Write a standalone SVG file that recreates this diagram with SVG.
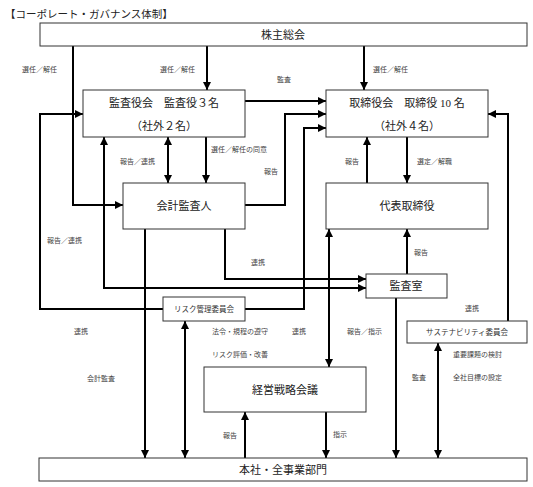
<svg xmlns="http://www.w3.org/2000/svg" width="533" height="487" viewBox="0 0 533 487">
<style>
.box{fill:#fff;stroke:#333;stroke-width:1}
.t{font-family:"Liberation Serif","Noto Sans CJK JP",serif;font-size:11px;fill:#222;text-anchor:middle;dominant-baseline:central}
.s{font-family:"Liberation Serif","Noto Sans CJK JP",serif;font-size:7px;fill:#444;dominant-baseline:central}
.ss{font-size:7.5px;fill:#333;text-anchor:middle}
.c{fill:none;stroke:#000;stroke-width:2}
.e{marker-end:url(#ah)}
.b{marker-start:url(#ah);marker-end:url(#ah)}
</style>
<defs>
<marker id="ah" viewBox="0 0 10 10" refX="10" refY="5" markerWidth="9" markerHeight="8" markerUnits="userSpaceOnUse" orient="auto-start-reverse">
<path d="M0,0 L10,5 L0,10 z" fill="#000"/>
</marker>
</defs>
<rect width="533" height="487" fill="#fff"/>
<text x="5" y="14" class="t" style="text-anchor:start;font-size:10.5px">【コーポレート・ガバナンス体制】</text>

<g id="connectors">
<path class="c e" d="M73,46 V205 H123"/>
<path class="c e" d="M207,46 V90"/>
<path class="c e" d="M364,46 V90"/>
<path class="c e" d="M245,101 H326"/>
<path class="c e" d="M245,205 H285 V114 H326"/>
<path class="c e" d="M245,309 H304 V128 H326"/>
<path class="c e" d="M163,309 H40 V114 H83"/>
<path class="c b" d="M104,137 V288 H366"/>
<path class="c e" d="M225,229 V279 H366"/>
<path class="c b" d="M168,137 V183"/>
<path class="c e" d="M206,137 V183"/>
<path class="c e" d="M145,229 V458"/>
<path class="c b" d="M185,321 V458"/>
<path class="c b" d="M329,229 V367"/>
<path class="c e" d="M367,183 V137"/>
<path class="c e" d="M407,137 V183"/>
<path class="c e" d="M407,274 V229"/>
<path class="c e" d="M508,321 V114 H488"/>
<path class="c b" d="M438,343 V458"/>
<path class="c e" d="M396,298 V458"/>
<path class="c e" d="M326,412 V458"/>
<path class="c e" d="M245,458 V412"/>
</g>

<g id="labels">
<text class="s" x="22" y="70">選任／解任</text>
<text class="s" x="160" y="70">選任／解任</text>
<text class="s" x="373" y="70">選任／解任</text>
<text class="s" x="277" y="80">監査</text>
<text class="s" x="120" y="162">報告／連携</text>
<text class="s" x="211" y="150">選任／解任の同意</text>
<text class="s" x="264" y="172">報告</text>
<text class="s" x="345" y="162">報告</text>
<text class="s" x="417" y="162">選定／解職</text>
<text class="s" x="47" y="241">報告／連携</text>
<text class="s" x="251" y="263">連携</text>
<text class="s" x="414" y="253">報告</text>
<text class="s" x="74" y="332">連携</text>
<text class="s" x="212" y="332">法令・規程の遵守</text>
<text class="s" x="292" y="332">連携</text>
<text class="s" x="347" y="332">報告／指示</text>
<text class="s" x="465" y="309">連携</text>
<text class="s" x="212" y="355">リスク評価・改善</text>
<text class="s" x="453" y="355">重要課題の検討</text>
<text class="s" x="87" y="379">会計監査</text>
<text class="s" x="412" y="378">監査</text>
<text class="s" x="453" y="378">全社目標の設定</text>
<text class="s" x="223" y="436">報告</text>
<text class="s" x="333" y="435">指示</text>
</g>

<g id="shareholders">
<rect class="box" x="40" y="23" width="487" height="23"/>
<text class="t" x="283" y="35">株主総会</text>
</g>
<g id="auditboard">
<rect class="box" x="83" y="90" width="162" height="47"/>
<text class="t" x="164" y="103">監査役会　監査役３名</text>
<text class="t" x="164" y="126">（社外２名）</text>
</g>
<g id="board">
<rect class="box" x="326" y="90" width="162" height="47"/>
<text class="t" x="407" y="103">取締役会　取締役 10 名</text>
<text class="t" x="407" y="126">（社外４名）</text>
</g>
<g id="accountingauditor">
<rect class="box" x="123" y="183" width="122" height="46"/>
<text class="t" x="184" y="206">会計監査人</text>
</g>
<g id="ceo">
<rect class="box" x="326" y="183" width="162" height="46"/>
<text class="t" x="407" y="206">代表取締役</text>
</g>
<g id="internalaudit">
<rect class="box" x="366" y="274" width="81" height="24"/>
<text class="t" x="406" y="286">監査室</text>
</g>
<g id="riskcommittee">
<rect class="box" x="163" y="297" width="82" height="24"/>
<text class="t ss" x="204" y="309">リスク管理委員会</text>
</g>
<g id="sustainability">
<rect class="box" x="407" y="321" width="120" height="22"/>
<text class="t ss" x="467" y="332">サステナビリティ委員会</text>
</g>
<g id="strategy">
<rect class="box" x="204" y="367" width="162" height="45"/>
<text class="t" x="285" y="390">経営戦略会議</text>
</g>
<g id="headquarters">
<rect class="box" x="39" y="458" width="488" height="23"/>
<text class="t" x="283" y="470">本社・全事業部門</text>
</g>
</svg>
